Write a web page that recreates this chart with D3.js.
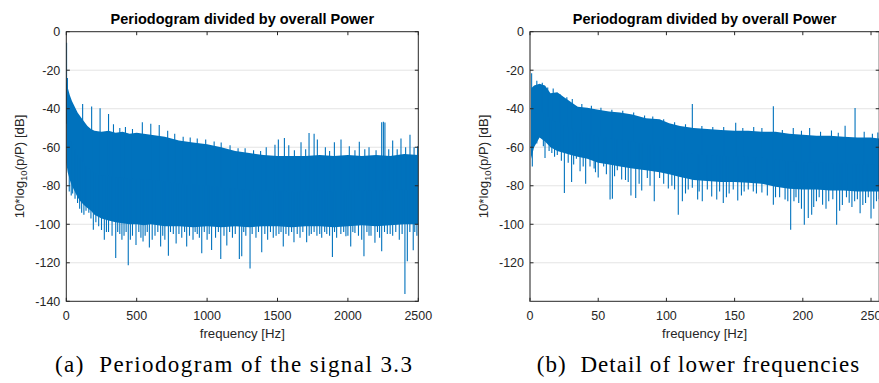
<!DOCTYPE html>
<html>
<head>
<meta charset="utf-8">
<script src="https://cdn.jsdelivr.net/npm/d3@7"></script>
<style>
  body { margin: 0; background: #fff; }
  svg { display: block; }
</style>
</head>
<body>
<svg id="fig" width="879" height="383"></svg>
<script>
// ---- dati (dB rispetto alla potenza totale) ----

// pannello (a): spettro completo 0-2500 Hz
const leftBandFreq = [0, 10, 25, 40, 60, 80, 100, 125, 150, 175, 200, 250, 300, 350, 400, 450, 500, 550, 600, 650, 700, 800, 900, 1000, 1100, 1200, 1300, 1400, 1500, 1600, 1700, 1800, 1900, 2000, 2100, 2200, 2300, 2400, 2500];
const leftBandTop = [-26, -29, -33, -36, -39, -42, -44, -46.5, -49, -50.5, -51.5, -52, -51.5, -52.5, -52, -53, -52.5, -53, -53.5, -54, -54.5, -56.5, -57.5, -58.5, -60, -62, -63, -64, -64.5, -64.5, -64.5, -64, -64.5, -64, -64.5, -64, -64.5, -63.5, -64];
const leftBandBottom = [-68, -73, -77, -80, -83, -86, -88, -90, -91.5, -93, -95, -97, -98, -99, -99.5, -100, -100, -100.5, -100, -100.5, -101, -101, -101.5, -101, -101.5, -101, -101.5, -101, -101, -101.5, -101, -101, -101.5, -101, -100.5, -101, -100.5, -100, -100];
const leftPeaks = [[2, -5.7], [8, -24], [116, -37.5], [180, -38.8], [240, -39.8], [300, -42.8], [335, -48], [380, -50], [420, -49.5], [470, -50.5], [540, -47], [600, -47.8], [660, -48.5], [720, -51.5], [770, -53], [830, -54.5], [880, -55], [930, -55.5], [990, -56], [1050, -57], [1100, -57.5], [1163, -59], [1220, -60.5], [1270, -60.5], [1330, -61.5], [1380, -62], [1420, -60], [1482, -58.7], [1506, -56], [1549, -55.2], [1580, -59], [1620, -61.5], [1667, -57.4], [1700, -61], [1724, -52.6], [1760, -53], [1783, -56], [1840, -60], [1870, -62], [1904, -57.4], [1951, -56], [2010, -59.5], [2050, -61.5], [2081, -57.2], [2120, -61], [2150, -60], [2200, -61.5], [2240, -47], [2252, -46.8], [2263, -47.2], [2290, -61], [2318, -56.5], [2350, -61], [2377, -55.4], [2410, -60], [2441, -53.5], [2470, -60], [2495, -59.5]];
const leftDips = [[21, -83], [35, -85], [45, -84], [62, -86.7], [80, -89], [95, -92], [109, -94], [125, -95], [140, -93], [160, -94], [175, -97], [192, -102.8], [210, -99], [230, -101], [250, -103], [270, -108], [285, -104], [300, -104], [325, -106], [351, -117.5], [365, -104], [380, -105], [395, -108], [410, -106], [425, -104], [440, -121.3], [455, -108], [470, -106], [495, -110.8], [515, -104], [530, -107], [545, -109], [560, -106], [575, -104], [590, -112], [610, -108], [630, -106], [650, -104], [670, -111.5], [685, -106], [700, -108], [725, -116.3], [740, -104], [760, -105], [780, -110], [800, -105], [820, -107], [840, -104], [855, -111.5], [875, -106], [900, -108], [915, -104], [930, -105], [945, -107], [962, -115], [980, -104], [1000, -108], [1015, -105], [1032, -113.3], [1060, -107], [1080, -104], [1097, -118], [1120, -106], [1140, -111], [1160, -104], [1180, -107], [1200, -105], [1229, -118], [1246, -116.6], [1260, -104], [1275, -106], [1305, -123], [1320, -105], [1347, -107], [1365, -104], [1388, -114.5], [1410, -105], [1430, -108], [1450, -104], [1470, -107], [1490, -106], [1510, -105], [1525, -104], [1541, -111.6], [1560, -105], [1580, -106], [1600, -104], [1617, -109.4], [1640, -105], [1660, -107], [1680, -104], [1707, -109.4], [1725, -106], [1740, -105], [1760, -104], [1780, -106], [1800, -105], [1814, -107], [1835, -104], [1850, -105], [1870, -106], [1890, -117], [1905, -104], [1920, -107], [1950, -105], [1970, -104], [1986, -106.2], [2000, -106], [2020, -111.6], [2035, -104], [2050, -104.5], [2075, -106], [2098, -108], [2114, -116.6], [2135, -104], [2150, -106], [2164, -106], [2192, -109.6], [2210, -104], [2225, -107], [2240, -114], [2260, -104], [2280, -105], [2300, -105], [2318, -106], [2340, -104], [2365, -108], [2385, -105], [2405, -136.2], [2422, -119.2], [2440, -104], [2464, -113.5], [2475, -104], [2490, -106]];

// pannello (b): dettaglio 0-256 Hz
const rightBandFreq = [0, 3, 7, 11, 15, 20, 25, 30, 35, 42, 50, 58, 66, 75, 85, 95, 102, 110, 120, 130, 140, 150, 160, 170, 180, 190, 200, 210, 220, 230, 240, 250, 256];
const rightBandTop = [-30, -28, -27, -28, -32, -31.5, -34, -36.5, -39, -39.5, -40.5, -41.5, -42, -43, -45, -45.5, -47.5, -49, -50, -50.5, -51, -51.5, -51.5, -52, -52, -53, -53.5, -54, -54, -54.5, -55, -55, -55.5];
const rightBandBottom = [-68, -60, -55, -57, -60, -62, -63, -64, -65, -66, -68, -69, -70, -71, -72, -73, -74, -75.5, -77, -77.5, -78, -78, -78.5, -79, -80.5, -81.5, -82, -82, -82.5, -82.5, -83, -83, -83];
const rightPeaks = [[0.3, -4.5], [1.2, -21.6], [5, -25.5], [9, -26.5], [13, -29], [17, -29.5], [22, -32.5], [27, -34], [31, -35], [38, -37.5], [45, -38.5], [52, -39.5], [60, -40.5], [68, -41], [76, -42], [84, -43.5], [90, -44], [98, -45.5], [106, -47], [114, -48], [119, -37.5], [126, -49], [134, -49.5], [142, -49.5], [150.8, -47.3], [156, -50], [164, -49.5], [170, -50], [178.4, -38.7], [185, -51], [193, -50], [199, -51.5], [205, -50], [213, -52], [221, -51.3], [226, -52.5], [231, -48.8], [238.3, -39.6], [245, -52], [251, -53], [255, -52.3]];
const rightDips = [[1.7, -70], [5, -58], [9.8, -59.5], [11, -65.6], [14, -62], [16, -63], [18, -65], [20, -64], [23, -67], [25.2, -83.7], [28, -68], [30.5, -78], [32, -69], [34, -66], [36.7, -72.5], [39, -70], [40.8, -79], [44, -70], [47, -71], [48, -73], [50, -75.7], [54, -70], [56, -74], [58.7, -87.2], [60.4, -86.7], [62, -75], [64, -72], [67.2, -76.8], [70, -77], [72, -78], [74, -85], [77.5, -86.4], [80, -79], [81.9, -82.4], [86, -76], [88, -80], [91.1, -88.1], [95, -76], [98, -79], [101.4, -81.4], [104, -80], [106, -82], [108.7, -95], [111.7, -88.1], [114, -84], [116, -82], [119, -81], [122.9, -87.2], [124, -83], [126.3, -88.1], [130, -82], [133.2, -85.6], [136.9, -87.2], [139, -83], [141.7, -89], [144, -86], [146, -84], [149, -82], [152.3, -87.7], [155, -85], [157, -83], [160, -82], [163.7, -83], [166, -84], [170, -83.5], [174, -85], [178.4, -89.8], [180, -86], [183, -86], [187, -87.2], [189, -88], [191.1, -102.8], [193.5, -88], [195, -86], [197, -89], [199, -92], [201.1, -100.2], [204, -96.8], [206.5, -95.1], [208, -91], [210, -88], [212, -86], [214.5, -89.8], [217, -92], [219, -88], [222, -87], [224.8, -100.2], [227, -93], [229, -90], [232, -86], [234, -88.8], [236, -91], [238, -88], [240, -87], [242, -94.3], [244, -90], [246, -89], [248, -86], [250, -97], [252, -92], [254, -88], [256, -87]];

// tick e testi
const leftXTicks = [0, 500, 1000, 1500, 2000, 2500];
const rightXTicks = [0, 50, 100, 150, 200, 250];
const leftYTicks = [0, -20, -40, -60, -80, -100, -120, -140];
const rightYTicks = [0, -20, -40, -60, -80, -100, -120];
const titleText = 'Periodogram divided by overall Power';
const xLabelText = 'frequency [Hz]';
const captions = ['(a)  Periodogram of the signal 3.3', '(b)  Detail of lower frequencies'];

// ---- configurazione ----
const config = {
    blue: '#0072BD',
    axis: '#262626',
    grid: '#e4e4e4',
    sans: '"Liberation Sans", Arial, Helvetica, sans-serif',
    serif: '"Liberation Serif", "Times New Roman", serif',
    top: 31.7,
    bottom: 301.3,
    tickLen: 3.5
};

const panels = [
    { id: 'a', x0: 66.3, x1: 418.3, fmax: 2500, xTicks: leftXTicks, yTicks: leftYTicks,
      bandF: leftBandFreq, bandTop: leftBandTop, bandBot: leftBandBottom, peaks: leftPeaks, dips: leftDips,
      ylabX: 24, caption: captions[0], capX: 55, capW: 357, leftAxisColor: null },
    { id: 'b', x0: 530, x1: 879.2, fmax: 256, xTicks: rightXTicks, yTicks: rightYTicks,
      bandF: rightBandFreq, bandTop: rightBandTop, bandBot: rightBandBottom, peaks: rightPeaks, dips: rightDips,
      ylabX: 487.5, caption: captions[1], capX: 536.7, capW: 322.6, leftAxisColor: '#8c8c8c' }
];

const svg = d3.select('#fig');
svg.append('rect').attr('width', 879).attr('height', 383).attr('fill', '#fff');

panels.forEach(p => drawPanel(p));

function drawPanel(p) {
    const x = d3.scaleLinear().domain([0, p.fmax]).range([p.x0, p.x1]);
    const y = d3.scaleLinear().domain([-140, 0]).range([config.bottom, config.top]);
    const g = svg.append('g');

    // griglia orizzontale
    g.append('g').selectAll('line')
        .data(p.yTicks.filter(t => t > -140 && t < 0))
        .enter().append('line')
        .attr('x1', p.x0).attr('x2', p.x1)
        .attr('y1', d => y(d)).attr('y2', d => y(d))
        .attr('stroke', config.grid).attr('stroke-width', 1);

    // area dati (ritagliata sugli assi)
    const clipId = 'clip-' + p.id;
    svg.append('clipPath').attr('id', clipId)
        .append('rect')
        .attr('x', p.x0).attr('y', config.top)
        .attr('width', p.x1 - p.x0).attr('height', config.bottom - config.top);

    const data = g.append('g').attr('clip-path', `url(#${clipId})`);

    const band = p.bandF.map((f, i) => ({ f, top: p.bandTop[i], bot: p.bandBot[i] }));
    const area = d3.area()
        .x(d => x(d.f))
        .y0(d => y(d.bot))
        .y1(d => y(d.top))
        .curve(d3.curveLinear);

    data.append('path')
        .datum(band)
        .attr('d', area)
        .attr('fill', config.blue);

    // le righe dei picchi partono dal centro della banda
    const mid = d3.scaleLinear()
        .domain(p.bandF)
        .range(p.bandF.map((f, i) => (p.bandTop[i] + p.bandBot[i]) / 2))
        .clamp(true);

    data.append('g').selectAll('line')
        .data(p.peaks.concat(p.dips))
        .enter().append('line')
        .attr('x1', d => x(d[0])).attr('x2', d => x(d[0]))
        .attr('y1', d => y(mid(d[0]))).attr('y2', d => y(d[1]))
        .attr('stroke', config.blue)
        .attr('stroke-width', 1.1);

    // riquadro
    g.append('rect')
        .attr('x', p.x0).attr('y', config.top)
        .attr('width', p.x1 - p.x0).attr('height', config.bottom - config.top)
        .attr('fill', 'none')
        .attr('stroke', config.axis)
        .attr('stroke-width', 1);

    if (p.leftAxisColor) {
        g.append('line')
            .attr('x1', p.x0).attr('x2', p.x0)
            .attr('y1', config.top).attr('y2', config.bottom)
            .attr('stroke', p.leftAxisColor)
            .attr('stroke-width', 2);
    }

    // tick interni su tutti i lati
    const ticks = g.append('g').attr('stroke', config.axis).attr('stroke-width', 1);
    p.xTicks.forEach(t => {
        ticks.append('line').attr('x1', x(t)).attr('x2', x(t))
            .attr('y1', config.bottom).attr('y2', config.bottom - config.tickLen);
        ticks.append('line').attr('x1', x(t)).attr('x2', x(t))
            .attr('y1', config.top).attr('y2', config.top + config.tickLen);
    });
    p.yTicks.forEach(t => {
        ticks.append('line').attr('x1', p.x0).attr('x2', p.x0 + config.tickLen)
            .attr('y1', y(t)).attr('y2', y(t));
        ticks.append('line').attr('x1', p.x1).attr('x2', p.x1 - config.tickLen)
            .attr('y1', y(t)).attr('y2', y(t));
    });

    // etichette dei tick
    g.append('g').selectAll('text')
        .data(p.xTicks)
        .enter().append('text')
        .attr('x', d => x(d))
        .attr('y', 319.5)
        .attr('text-anchor', 'middle')
        .attr('font-family', config.sans)
        .attr('font-size', '12.5px')
        .attr('fill', config.axis)
        .text(d => d);

    g.append('g').selectAll('text')
        .data(p.yTicks)
        .enter().append('text')
        .attr('x', p.x0 - 6)
        .attr('y', d => y(d))
        .attr('dy', '0.36em')
        .attr('text-anchor', 'end')
        .attr('font-family', config.sans)
        .attr('font-size', '12.5px')
        .attr('fill', config.axis)
        .text(d => d);

    // titolo
    g.append('text')
        .attr('x', (p.x0 + p.x1) / 2)
        .attr('y', 24)
        .attr('text-anchor', 'middle')
        .attr('font-family', config.sans)
        .attr('font-weight', 'bold')
        .attr('font-size', '14.5px')
        .attr('fill', '#000')
        .text(titleText);

    // etichetta asse x
    g.append('text')
        .attr('x', (p.x0 + p.x1) / 2)
        .attr('y', 337.5)
        .attr('text-anchor', 'middle')
        .attr('font-family', config.sans)
        .attr('font-size', '13.2px')
        .attr('fill', config.axis)
        .text(xLabelText);

    // etichetta asse y con pedice
    const yl = g.append('text')
        .attr('transform', `translate(${p.ylabX}, ${(config.top + config.bottom) / 2}) rotate(-90)`)
        .attr('text-anchor', 'middle')
        .attr('font-family', config.sans)
        .attr('font-size', '13.2px')
        .attr('fill', config.axis);
    yl.append('tspan').text('10*log');
    yl.append('tspan').attr('font-size', '9.5px').attr('dy', 3).text('10');
    yl.append('tspan').attr('dy', -3).text('(p/P) [dB]');

    // didascalia stile LaTeX
    svg.append('text')
        .attr('x', p.capX)
        .attr('y', 371.5)
        .attr('font-family', config.serif)
        .attr('font-size', '23px')
        .attr('fill', '#000')
        .attr('textLength', p.capW)
        .attr('lengthAdjust', 'spacing')
        .style('white-space', 'pre')
        .text(p.caption);
}
</script>
</body>
</html>
